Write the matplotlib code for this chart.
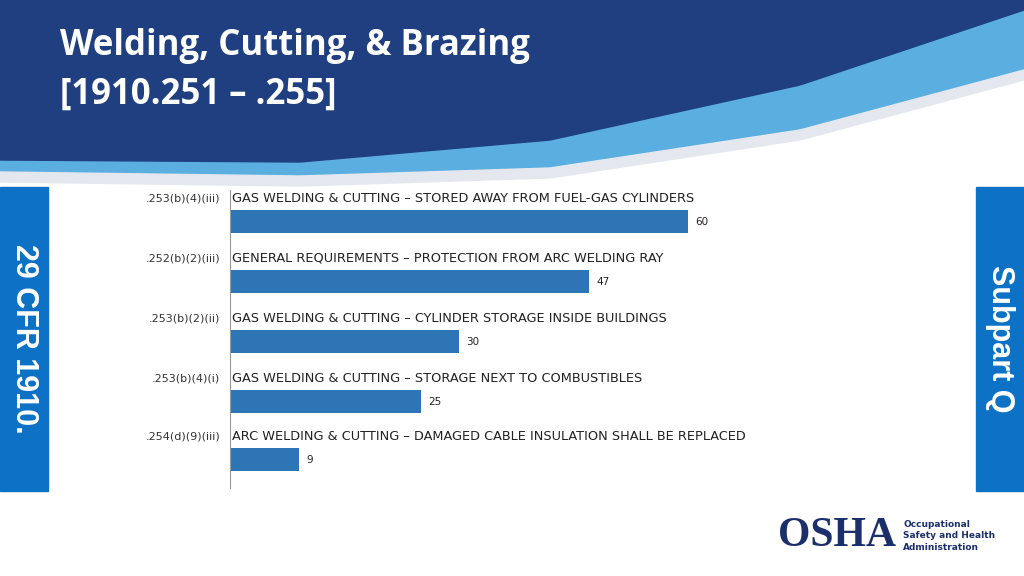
import matplotlib
matplotlib.use("Agg")
import matplotlib.pyplot as plt
import numpy as np

codes = [".253(b)(4)(iii)", ".252(b)(2)(iii)", ".253(b)(2)(ii)", ".253(b)(4)(i)", ".254(d)(9)(iii)"]
titles = ["Gas Welding & Cutting – Stored away from fuel-gas cylinders",
          "General Requirements – Protection from arc welding ray",
          "Gas Welding & Cutting – Cylinder storage inside buildings",
          "Gas Welding & Cutting – Storage next to combustibles",
          "Arc Welding & Cutting – Damaged cable insulation shall be replaced"]
values = [60, 47, 30, 25, 9]

W, H = 1024, 576
fig = plt.figure(figsize=(W/100, H/100), dpi=100)
bg = fig.add_axes([0, 0, 1, 1])
bg.set_xlim(0, W); bg.set_ylim(H, 0); bg.axis("off")

xs = np.linspace(0, W, 200)
def curve(x, pts):
    px, py = zip(*pts)
    return np.interp(x, px, py)
ya = curve(xs, [(0, 160), (300, 162), (550, 140), (800, 85), (1024, 10)])
yb = curve(xs, [(0, 172), (300, 176), (550, 168), (800, 130), (1024, 70)])
bg.fill_between(xs, 0, yb, color="#5BAEE0", zorder=0)
bg.fill_between(xs, 0, ya, color="#1F3F80", zorder=1)
bg.fill_between(xs, yb, yb + 10, color="#E4E8EE", zorder=0)
bg.text(60, 46, "Welding, Cutting, & Brazing", color="white", fontsize=25, fontweight="bold",
        family="Open Sans", va="center", zorder=3)
bg.text(60, 95, "[1910.251 – .255]", color="white", fontsize=25, fontweight="bold",
        family="Open Sans", va="center", zorder=3)

bg.add_patch(plt.Rectangle((0, 187), 48, 304, color="#0D72C6"))
bg.add_patch(plt.Rectangle((976, 187), 48, 304, color="#0D72C6"))
bg.text(24, 339, "29 CFR 1910.", rotation=-90, color="white", fontsize=22, fontweight="bold",
        family="Liberation Sans", ha="center", va="center")
bg.text(1000, 339, "Subpart Q", rotation=-90, color="white", fontsize=22, fontweight="bold",
        family="Liberation Sans", ha="center", va="center")

bg.text(778, 536, "OSHA", color="#1B2F6B", fontsize=30, fontweight="bold", family="Liberation Serif",
        va="center", ha="left")
bg.text(903, 536, "Occupational\nSafety and Health\nAdministration", color="#1B2F6B", fontsize=6.5,
        fontweight="bold", va="center", ha="left", linespacing=1.3)

x0, x1, y0, y1 = 230, 860, 190, 488
ax = fig.add_axes([x0/W, 1 - y1/H, (x1-x0)/W, (y1-y0)/H])
scale = (688 - 230) / 60.0
ax.set_xlim(0, (x1 - x0) / scale)
ax.set_ylim(y1, y0)
centers = [221, 281, 341, 401, 459]
ax.barh(centers, values, height=23, color="#2E75B6")
for c, v, code, t in zip(centers, values, codes, titles):
    ax.text(v + 1, c + 1, str(v), fontsize=7.5, va="center", ha="left", color="#222")
    ax.text(-1.3, c - 23, code, fontsize=8, va="center", ha="right", color="#333")
    ax.text(0.3, c - 23, t.upper(), fontsize=9.3, va="center", ha="left", color="#222")
for s in ["top", "right", "bottom"]:
    ax.spines[s].set_visible(False)
ax.spines["left"].set_color("#999")
ax.set_xticks([]); ax.set_yticks([])
ax.patch.set_alpha(0)
fig.savefig("out.png", dpi=100)
